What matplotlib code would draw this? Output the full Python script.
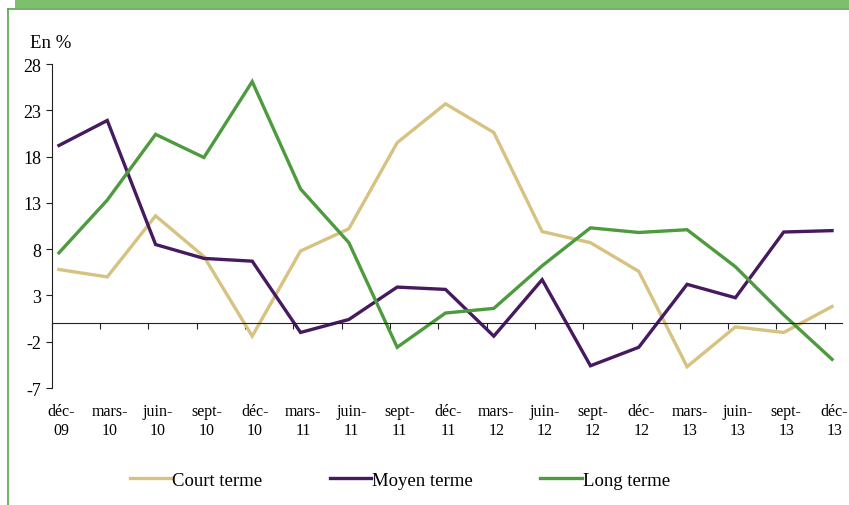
import matplotlib
matplotlib.use("Agg")
import matplotlib.pyplot as plt
from matplotlib.patches import Rectangle
from matplotlib.lines import Line2D
import numpy as np

plt.rcParams['font.family'] = ['Liberation Serif', 'DejaVu Serif']
plt.rcParams['axes.unicode_minus'] = False

categories = ["déc-\n09", "mars-\n10", "juin-\n10", "sept-\n10", "déc-\n10", "mars-\n11",
              "juin-\n11", "sept-\n11", "déc-\n11", "mars-\n12", "juin-\n12", "sept-\n12",
              "déc-\n12", "mars-\n13", "juin-\n13", "sept-\n13", "déc-\n13"]
court = [5.8, 5.0, 11.6, 7.2, -1.4, 7.8, 10.2, 19.5, 23.7, 20.6, 9.9, 8.7, 5.6, -4.7, -0.4, -1.0, 1.8]
moyen = [19.2, 21.9, 8.5, 7.0, 6.7, -1.0, 0.4, 3.9, 3.65, -1.4, 4.7, -4.6, -2.6, 4.2, 2.75, 9.85, 10.0]
long_ = [7.6, 13.3, 20.4, 17.9, 26.1, 14.5, 8.7, -2.6, 1.1, 1.6, 6.2, 10.3, 9.8, 10.1, 6.1, 0.9, -3.9]
yticks = [-7, -2, 3, 8, 13, 18, 23, 28]
series_names = ["Court terme", "Moyen terme", "Long terme"]
colors = ["#d6c281", "#451a5f", "#4d9b3e"]

W, H = 849, 506
fig = plt.figure(figsize=(W / 100, H / 100), dpi=100)

# frame decorations
fig.patches.append(Rectangle((15 / W, 1 - 9 / H), 1, 9 / H, transform=fig.transFigure,
                             facecolor="#7dbf6d", edgecolor="none", zorder=0))
fig.lines.append(Line2D([8 / W, 1], [1 - 10 / H, 1 - 10 / H], transform=fig.transFigure,
                        color="#5aa34b", lw=1.2))
fig.lines.append(Line2D([8 / W, 8 / W], [0, 1 - 10 / H], transform=fig.transFigure,
                        color="#5aa34b", lw=1.2))

ax = fig.add_axes([51.7 / W, 1 - 389 / H, (841.7 - 51.7) / W, (389 - 65) / H])
x = np.arange(len(categories))
for vals, name, c in zip([court, moyen, long_], series_names, colors):
    ax.plot(x, vals, color=c, lw=2.4, label=name, solid_joinstyle='miter')

ax.set_xlim(-0.15, 16.2)
ax.set_ylim(-7, 28)
ax.set_yticks(yticks)
ax.tick_params(axis='y', direction='out', length=4.5, width=0.8, labelsize=13, pad=3,
               colors='#222222', labelcolor='black')
ax.spines['bottom'].set_position(('data', 0))
ax.spines['top'].set_visible(False)
ax.spines['right'].set_visible(False)
for s in ['left', 'bottom']:
    ax.spines[s].set_linewidth(0.8)
    ax.spines[s].set_color('#222222')
ax.set_xticks(np.arange(len(categories)) - 0.15)
ax.set_xticklabels([])
ax.tick_params(axis='x', direction='out', length=4, width=0.8, colors='#222222')

for i, lab in enumerate(categories):
    ax.text(i + 0.05, -0.045, lab, transform=ax.get_xaxis_transform(), ha='center', va='top',
            fontsize=11.5, linespacing=1.3, multialignment='center')

fig.text(30 / W, 1 - 43 / H, "En %", fontsize=13.5, va='center', ha='left')

leg = fig.legend(loc='center', bbox_to_anchor=(400 / W, 1 - 481 / H), ncol=3, frameon=False,
                 fontsize=13.5, handlelength=2.2, handletextpad=0.05, columnspacing=3.6)

fig.savefig("out.png", dpi=100)
